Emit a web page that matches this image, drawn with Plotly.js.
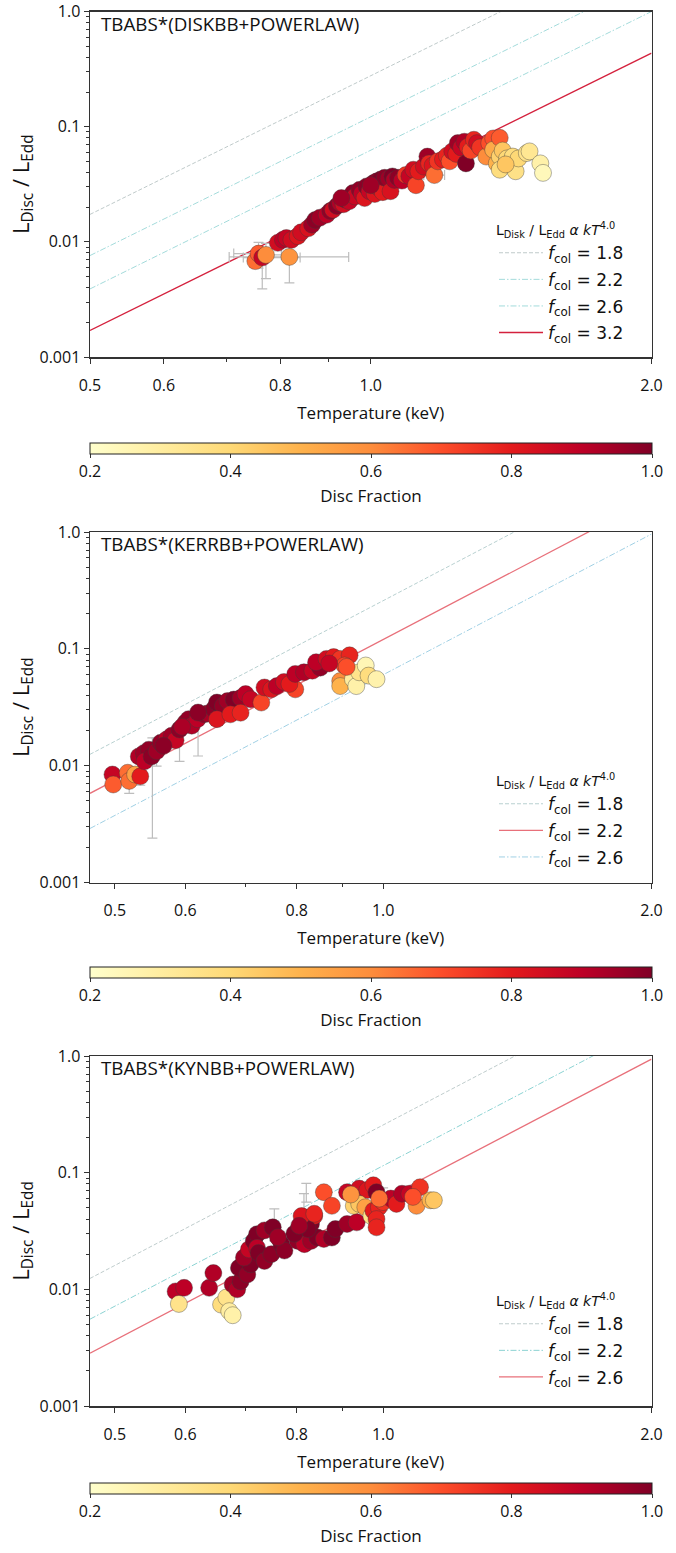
<!DOCTYPE html>
<html>
<head>
<meta charset="utf-8">
<script src="https://cdn.plot.ly/plotly-3.0.1.min.js"></script>
<style>html,body{margin:0;padding:0;background:#fff;}#chart{width:676px;height:1553px;}</style>
</head>
<body>
<div id="chart"></div>
<script>
// ---------- Panel 1: TBABS*(DISKBB+POWERLAW) ----------
const T1 = [0.752,0.758,0.765,0.772,0.818,0.795,0.805,0.812,0.822,0.835,0.842,0.857,0.865,0.872,0.882,0.897,0.905,0.911,0.92,0.927,0.935,0.94,0.948,0.957,0.962,0.973,0.978,0.985,0.99,0.997,1.007,1.01,1.015,1.02,1.025,1.03,1.035,1.045,1.05,1.055,1.06,1.07,1.08,1.09,1.1,1.111,1.118,1.125,1.14,1.15,1.155,1.165,1.17,1.18,1.195,1.207,1.215,1.223,1.235,1.24,1.25,1.26,1.265,1.27,1.28,1.29,1.3,1.31,1.33,1.34,1.353,1.353,1.365,1.375,1.375,1.385,1.375,1.4,1.42,1.43,1.44,1.47,1.48,1.52,1.53,1.395,0.93,1.0];
const L1 = [0.0068,0.0079,0.0073,0.0077,0.0074,0.0098,0.0104,0.0108,0.0104,0.0112,0.0121,0.0131,0.0141,0.0155,0.0162,0.0172,0.0185,0.019,0.0205,0.0217,0.0212,0.0232,0.0225,0.0265,0.0248,0.0283,0.0262,0.024,0.0303,0.0275,0.0324,0.026,0.0335,0.0295,0.0348,0.027,0.036,0.0355,0.0275,0.037,0.0345,0.036,0.034,0.038,0.0372,0.0423,0.031,0.041,0.045,0.055,0.048,0.046,0.038,0.05,0.052,0.056,0.05,0.061,0.058,0.072,0.066,0.074,0.048,0.067,0.062,0.077,0.072,0.066,0.055,0.072,0.079,0.063,0.048,0.08,0.055,0.062,0.0423,0.053,0.055,0.041,0.053,0.059,0.061,0.048,0.0397,0.047,0.024,0.031];
const F1 = [0.65,0.68,0.88,0.6,0.58,0.85,0.9,0.88,0.85,0.82,0.85,0.83,0.95,0.98,0.95,0.9,0.97,0.85,0.98,0.92,0.85,0.97,0.88,0.98,0.87,0.97,0.9,0.82,0.98,0.88,1.0,0.82,0.97,0.85,1.0,0.8,0.98,0.95,0.83,1.0,0.92,0.98,0.9,0.75,0.88,0.85,0.72,0.8,0.85,0.95,0.78,0.82,0.65,0.75,0.8,0.78,0.7,0.85,0.8,0.95,0.88,0.92,1.0,0.8,0.72,0.78,0.85,0.75,0.6,0.7,0.7,0.52,0.5,0.68,0.42,0.45,0.38,0.4,0.38,0.36,0.4,0.35,0.33,0.28,0.24,0.45,0.95,0.95];
const E1_T = [0.818,0.765,0.772,0.758,1.375,1.17];
const E1_L = [0.0074,0.0073,0.0077,0.0079,0.0423,0.038];
const E1_xm = [0.113,0.035,0.02,0.045,0,0.03];
const E1_xp = [0.129,0.075,0.03,0.02,0,0.03];
const E1_ym = [0.003,0.0034,0.0029,0.002,0.005,0.004];
const E1_yp = [0.003,0.0015,0.002,0.002,0.0,0.0];
const fcol1 = ['1.8','2.2','2.6','3.2'];
const line1X = [0.5, 2.0];
const line1Left = [0.0173, 0.0076, 0.0039, 0.0017];
const line1Right = [4.43, 1.95, 1.0, 0.435];

// ---------- Panel 2: TBABS*(KERRBB+POWERLAW) ----------
const T2 = [0.497,0.498,0.517,0.519,0.527,0.534,0.532,0.539,0.546,0.54,0.55,0.557,0.563,0.572,0.579,0.585,0.591,0.6,0.605,0.61,0.619,0.63,0.636,0.646,0.651,0.661,0.669,0.68,0.692,0.701,0.651,0.674,0.692,0.71,0.73,0.736,0.749,0.76,0.774,0.797,0.785,0.797,0.815,0.833,0.85,0.841,0.864,0.88,0.895,0.917,0.905,0.895,0.895,0.925,0.933,0.94,0.956,0.963,0.983,0.91,0.87,0.62,0.595,0.567];
const L2 = [0.0084,0.0069,0.0087,0.0074,0.0084,0.0081,0.012,0.0128,0.0137,0.0109,0.012,0.0133,0.0157,0.0168,0.018,0.0165,0.0204,0.0233,0.025,0.022,0.025,0.0275,0.028,0.0305,0.0347,0.0325,0.0357,0.0368,0.038,0.041,0.025,0.0275,0.0284,0.037,0.0347,0.0467,0.045,0.048,0.052,0.045,0.05,0.061,0.063,0.065,0.069,0.0768,0.082,0.085,0.082,0.088,0.072,0.053,0.048,0.055,0.048,0.063,0.072,0.059,0.055,0.07,0.075,0.0285,0.0215,0.0148];
const F2 = [0.88,0.68,0.65,0.65,0.55,0.8,0.92,0.95,0.97,0.9,0.98,0.95,0.97,0.9,0.95,0.88,0.98,0.95,0.97,0.92,0.9,0.97,0.93,0.98,1.0,0.97,0.95,1.0,0.95,0.9,0.82,0.8,0.78,0.88,0.72,0.85,0.82,0.9,0.85,0.72,0.8,0.9,0.92,0.88,0.97,0.9,0.85,0.8,0.75,0.78,0.72,0.6,0.5,0.3,0.28,0.35,0.25,0.38,0.27,0.7,0.88,0.98,0.93,0.98];
const E2_T = [0.551,0.519,0.534,0.557,0.591,0.62];
const E2_L = [0.0105,0.0074,0.0081,0.0133,0.0204,0.0285];
const E2_ym = [0.0081,0.0016,0.0013,0.0034,0.0095,0.0164];
const E2_yp = [0.0068,0.001,0.001,0.004,0.003,0.003];
const fcol2 = ['1.8','2.2','2.6'];
const line2X = [0.469, 2.0];
const line2Left = [0.0125, 0.0058, 0.0029];
const line2Right = [4.13, 1.92, 0.96];

// ---------- Panel 3: TBABS*(KYNBB+POWERLAW) ----------
const T3 = [0.585,0.598,0.59,0.638,0.645,0.658,0.667,0.672,0.678,0.678,0.686,0.692,0.689,0.704,0.71,0.698,0.707,0.716,0.722,0.736,0.752,0.722,0.725,0.736,0.749,0.769,0.775,0.762,0.802,0.816,0.83,0.844,0.858,0.876,0.884,0.911,0.934,0.816,0.83,0.837,0.823,0.81,0.837,0.858,0.876,0.911,0.94,0.96,0.975,0.983,0.927,0.94,0.955,0.97,0.975,0.989,0.983,0.983,1.0,1.02,1.035,1.05,1.07,1.09,1.1,1.13,1.14,1.08,0.92,0.99,0.795,0.805];
const L3 = [0.0096,0.0103,0.0075,0.0103,0.0138,0.0074,0.0085,0.0065,0.006,0.011,0.01,0.0117,0.0153,0.0134,0.0164,0.0187,0.022,0.026,0.0297,0.032,0.034,0.0227,0.0205,0.0175,0.02,0.0244,0.0215,0.028,0.026,0.0244,0.026,0.0278,0.027,0.0278,0.0329,0.0363,0.0375,0.0414,0.0363,0.0425,0.0329,0.0425,0.0444,0.068,0.052,0.068,0.073,0.071,0.078,0.068,0.052,0.054,0.0505,0.0425,0.0471,0.0505,0.04,0.034,0.056,0.06,0.054,0.066,0.066,0.052,0.075,0.058,0.058,0.062,0.065,0.06,0.03,0.035];
const F3 = [0.9,0.9,0.35,0.92,0.92,0.38,0.35,0.3,0.28,0.95,0.92,0.98,1.0,0.97,1.0,0.95,0.88,1.0,1.0,0.95,1.0,0.9,1.0,0.97,0.98,1.0,0.98,0.95,0.97,0.9,0.95,1.0,0.92,1.0,1.0,0.95,0.9,0.8,1.0,0.8,1.0,0.82,0.78,0.7,0.72,0.88,0.85,0.82,0.8,1.0,0.42,0.45,0.55,0.35,0.8,0.78,0.78,0.78,0.75,0.9,0.8,0.92,0.88,0.6,0.75,0.5,0.45,0.7,0.58,0.65,1.0,0.95];
const E3_T = [0.82,0.755,1.0,0.815];
const E3_L = [0.066,0.034,0.056,0.05];
const E3_ym = [0.01,0.008,0.008,0.008];
const E3_yp = [0.015,0.015,0.018,0.016];
const fcol3 = ['1.8','2.2','2.6'];
const line3X = [0.469, 2.0];
const line3Left = [0.0124, 0.00555, 0.00284];
const line3Right = [4.1, 1.835, 0.94];

const panelTitles = ['TBABS*(DISKBB+POWERLAW)','TBABS*(KERRBB+POWERLAW)','TBABS*(KYNBB+POWERLAW)'];
const xTickVals = [0.5,0.6,0.8,1.0,2.0];
const xTickText = ['0.5','0.6','0.8','1.0','2.0'];
const yTickVals = [0.001,0.01,0.1,1];
const yTickText = ['0.001','0.01','0.1','1.0'];
const cbTickVals = [0.2,0.4,0.6,0.8,1.0];
const cbTickText = ['0.2','0.4','0.6','0.8','1.0'];

// ---------- styling ----------
const W = 676, H = 1553;
const fy = px => 1 - px / H;
const FONT = 'Open Sans, Noto Sans, sans-serif';
const LFONT = 'DejaVu Sans, sans-serif';
const YlOrRd = [[0,'#ffffcc'],[0.125,'#ffeda0'],[0.25,'#fed976'],[0.375,'#feb24c'],[0.5,'#fd8d3c'],[0.625,'#fc4e2a'],[0.75,'#e31a1c'],[0.875,'#bd0026'],[1,'#800026']];
const DASH = '4px,2px';
const DASHDOT = '6px,2px,1.5px,2px';
const minorY = [];
for (let e = -3; e < 0; e++) for (let m = 2; m <= 9; m++) minorY.push(m * Math.pow(10, e));

const panels = [
  {T:T1,L:L1,F:F1,eT:E1_T,eL:E1_L,exm:E1_xm,exp:E1_xp,eym:E1_ym,eyp:E1_yp,fcol:fcol1,lx:line1X,ll:line1Left,lr:line1Right,
   lineStyles:[{c:'#bfcaca',d:DASH,w:1},{c:'#a3dbdb',d:DASHDOT,w:1},{c:'#a3dbdb',d:DASHDOT,w:1},{c:'#d4213d',d:'solid',w:1.4}],
   top:11.5,bottom:357,xr:[Math.log10(0.5),Math.log10(2)],cbTop:442.7,legTop:217},
  {T:T2,L:L2,F:F2,eT:E2_T,eL:E2_L,exm:null,exp:null,eym:E2_ym,eyp:E2_yp,fcol:fcol2,lx:line2X,ll:line2Left,lr:line2Right,
   lineStyles:[{c:'#b8d0d0',d:DASH,w:1},{c:'#e8707a',d:'solid',w:1.3},{c:'#a0d0e4',d:DASHDOT,w:1}],
   top:532,bottom:882.5,xr:[Math.log10(0.469),Math.log10(2)],cbTop:967,legTop:768},
  {T:T3,L:L3,F:F3,eT:E3_T,eL:E3_L,exm:null,exp:null,eym:E3_ym,eyp:E3_yp,fcol:fcol3,lx:line3X,ll:line3Left,lr:line3Right,
   lineStyles:[{c:'#bfcccc',d:DASH,w:1},{c:'#8cd3d3',d:DASHDOT,w:1},{c:'#e8707a',d:'solid',w:1.3}],
   top:1056,bottom:1406,xr:[Math.log10(0.469),Math.log10(2)],cbTop:1483,legTop:1288}
];

const data = [];
const layout = {
  width: W, height: H, margin: {l:0,r:0,t:0,b:0},
  paper_bgcolor: '#fff', plot_bgcolor: '#fff',
  font: {family: FONT, color: '#111', size: 16},
  showlegend: true, annotations: []
};

panels.forEach((p, i) => {
  const n = i + 1;
  const xa = n === 1 ? 'x' : 'x' + n;
  const ya = n === 1 ? 'y' : 'y' + n;
  const lg = n === 1 ? 'legend' : 'legend' + n;
  const ca = n === 1 ? 'coloraxis' : 'coloraxis' + n;
  // model lines
  p.fcol.forEach((f, k) => {
    const s = p.lineStyles[k];
    data.push({type:'scatter', mode:'lines', x:p.lx, y:[p.ll[k], p.lr[k]], xaxis:xa, yaxis:ya, legend:lg,
      legendgroup:'p' + n + 'g' + k,
      name:'<i>f</i><sub>col</sub> = ' + f, line:{color:s.c, dash:s.d, width:s.w}, hoverinfo:'skip'});
  });
  // error bars
  const eb = {type:'scatter', mode:'markers', x:p.eT, y:p.eL, xaxis:xa, yaxis:ya, showlegend:false, hoverinfo:'skip',
    marker:{size:1, opacity:0},
    error_y:{type:'data', symmetric:false, array:p.eyp, arrayminus:p.eym, color:'#bdbdbd', thickness:1.2, width:5}};
  if (p.exm) eb.error_x = {type:'data', symmetric:false, array:p.exp, arrayminus:p.exm, color:'#bdbdbd', thickness:1.2, width:5};
  data.push(eb);
  // data points
  data.push({type:'scatter', mode:'markers', x:p.T, y:p.L, xaxis:xa, yaxis:ya, showlegend:false,
    marker:{size:17, color:p.F, coloraxis:ca, line:{width:0.6, color:'rgba(60,60,60,0.65)'}}});

  layout['xaxis' + (n === 1 ? '' : n)] = {
    domain:[90/W, 651.5/W], anchor:ya, type:'log', range:p.xr,
    tickmode:'array', tickvals:xTickVals, ticktext:xTickText,
    ticks:'outside', ticklen:5, tickwidth:1, tickcolor:'#333', ticklabelstandoff:8,
    minor:{tickvals:[0.7,0.9], ticks:'outside', ticklen:3, tickcolor:'#333'},
    showline:true, linecolor:'#333', linewidth:1.5, mirror:true, showgrid:false, zeroline:false,
    tickfont:{size:16, family:FONT}, ticklabeloverflow:'allow',
    title:{text:'Temperature (keV)', font:{size:17, family:FONT}, standoff:12},
    automargin:false
  };
  layout['yaxis' + (n === 1 ? '' : n)] = {
    domain:[fy(p.bottom), fy(p.top)], anchor:xa, type:'log', range:[-3, 0],
    tickmode:'array', tickvals:yTickVals, ticktext:yTickText,
    ticks:'outside', ticklen:5, tickwidth:1, tickcolor:'#333',
    minor:{tickvals:minorY, ticks:'outside', ticklen:3, tickcolor:'#333'},
    showline:true, linecolor:'#333', linewidth:1.5, mirror:true, showgrid:false, zeroline:false,
    tickfont:{size:16, family:FONT}, ticklabeloverflow:'allow',
    title:{text:'L<sub>Disc</sub> / L<sub>Edd</sub>', font:{size:22, family:FONT}, standoff:4},
    automargin:false
  };
  layout[ca] = {
    cmin:0.2, cmax:1.0, colorscale:YlOrRd, showscale:true,
    colorbar:{orientation:'h', x:90/W, xanchor:'left', len:561.5/W, lenmode:'fraction', thickness:11,
      y:fy(p.cbTop), yanchor:'top', xpad:0, ypad:0, outlinewidth:1, outlinecolor:'#222',
      tickmode:'array', tickvals:cbTickVals, ticktext:cbTickText, ticks:'outside', ticklen:4, tickcolor:'#333',
      tickfont:{size:16, family:FONT},
      title:{text:'Disc Fraction', side:'bottom', font:{size:17, family:FONT}}}
  };
  layout[lg] = {
    x:494/W, xanchor:'left', y:fy(p.legTop), yanchor:'top', bgcolor:'rgba(0,0,0,0)', borderwidth:0,
    font:{family:LFONT, size:17, color:'#111'}, tracegroupgap:1.5, traceorder:'grouped', itemwidth:44,
    title:{text:'L<sub>Disk</sub> / L<sub>Edd</sub> <i>α kT</i><sup>4.0</sup>', font:{family:LFONT, size:14, color:'#111'}}
  };
  layout.annotations.push({xref:'paper', yref:'paper', x:99/W, y:fy(p.top + 12), xanchor:'left', yanchor:'middle',
    text:panelTitles[i], showarrow:false, font:{size:18.8, family:FONT, color:'#111'}});
});

Plotly.newPlot('chart', data, layout, {staticPlot:true, displayModeBar:false});
</script>
</body>
</html>
